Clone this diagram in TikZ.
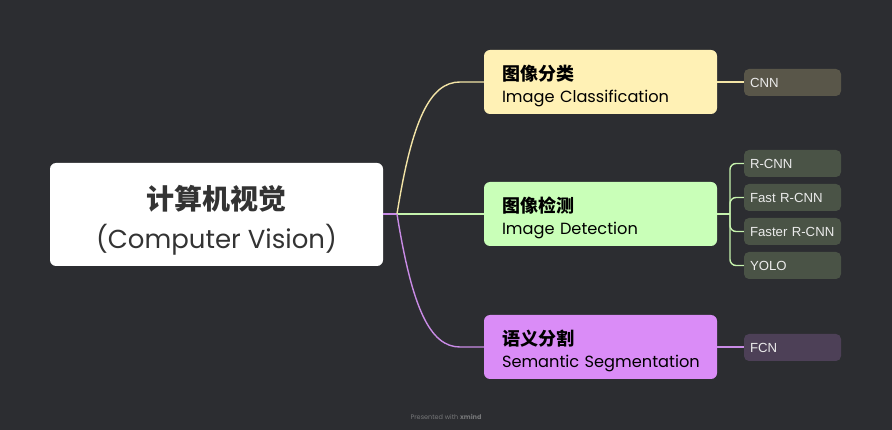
\documentclass[tikz,border=0pt]{standalone}
\usepackage{fontspec}
\setmainfont{Poppins}
\newfontfamily\cjk{Noto Sans CJK SC}
\newfontfamily\leaffont{Liberation Sans}
\usepackage{tikz}
\usetikzlibrary{positioning}
\usepackage{xcolor}
\definecolor{bgdark}{HTML}{2C2D31}
\definecolor{rootink}{HTML}{333333}
\definecolor{clsfill}{HTML}{FFF1B5}
\definecolor{clsline}{HTML}{F3E4A6}
\definecolor{detfill}{HTML}{C9FFB8}
\definecolor{detline}{HTML}{C5F2AD}
\definecolor{segfill}{HTML}{DA8CF7}
\definecolor{segline}{HTML}{C98BE6}
\definecolor{clsleaf}{HTML}{595649}
\definecolor{detleaf}{HTML}{4A5346}
\definecolor{segleaf}{HTML}{4D4057}

\begin{document}
\begin{tikzpicture}[
  x=1pt, y=-1pt,
  root/.style={fill=white, rounded corners=6pt, align=center, minimum width=333pt, minimum height=103pt, text=rootink, font=\fontsize{26}{39}\selectfont},
  branch/.style={rounded corners=6pt, align=left, inner xsep=18pt, text width=197pt, minimum height=64pt, text=black, font=\fontsize{16.2}{23}\selectfont},
  leaf/.style={rounded corners=5pt, align=left, inner xsep=6pt, text width=85pt, minimum height=27pt, text=white!92!black, font=\leaffont\fontsize{13.2}{14}\selectfont},
  link/.style={line width=1.4pt}
]
\fill[bgdark] (0,0) rectangle (892,430);
\useasboundingbox (0,0) rectangle (892,430);

\node[root] (cv) at (216.5,214.5) {{\cjk\bfseries\fontsize{28}{39}\selectfont\rule{0pt}{35pt}计算机视觉}\\(Computer Vision)};

\node[branch, fill=clsfill] (cls) at (600.5,82) {{\cjk\bfseries\fontsize{18}{23}\selectfont\rule{0pt}{23pt}图像分类}\\[-1pt]\mbox{Image Classification}};
\node[branch, fill=detfill] (det) at (600.5,214) {{\cjk\bfseries\fontsize{18}{23}\selectfont\rule{0pt}{23pt}图像检测}\\[-1pt]\mbox{Image Detection}};
\node[branch, fill=segfill] (seg) at (600.5,347) {{\cjk\bfseries\fontsize{18}{23}\selectfont\rule{0pt}{23pt}语义分割}\\[-1pt]\mbox{Semantic Segmentation}};

\node[leaf, fill=clsleaf] (cnn) at (792.5,82.5) {CNN};
\node[leaf, fill=detleaf] (rcnn) at (792.5,163.5) {R-CNN};
\node[leaf, fill=detleaf] (fast) at (792.5,197.5) {Fast R-CNN};
\node[leaf, fill=detleaf] (faster) at (792.5,231.5) {Faster R-CNN};
\node[leaf, fill=detleaf] (yolo) at (792.5,265.5) {YOLO};
\node[leaf, fill=segleaf] (fcn) at (792.5,347.5) {FCN};

\coordinate (hub) at (397,214);
\coordinate (gbr) at (730,214);

% root to branches
\draw[link, segline] (cv.east |- hub) -- (hub);
\draw[link, clsline] (hub) .. controls (412,120) and (430,82) .. (460,82) -- (cls.west);
\draw[link, detline] (hub) -- (det.west);
\draw[link, segline] (hub) .. controls (412,308) and (430,347) .. (460,347) -- (seg.west);

% branches to leaves
\draw[link, clsline] (cls.east) -- (cnn.west |- cls.east);
\draw[link, detline] (det.east) -- (gbr);
\draw[link, detline, rounded corners=6pt] (rcnn.west) -| (gbr) |- (yolo.west);
\draw[link, detline, rounded corners=6pt] (fast.west) -| (gbr);
\draw[link, detline, rounded corners=6pt] (faster.west) -| (gbr);
\draw[link, segline] (seg.east) -- (fcn.west |- seg.east);

\node[text=white!35!bgdark, font=\fontsize{6.5}{8}\selectfont] (mark) at (446,417) {Presented with \textbf{xmind}};
\end{tikzpicture}
\end{document}
